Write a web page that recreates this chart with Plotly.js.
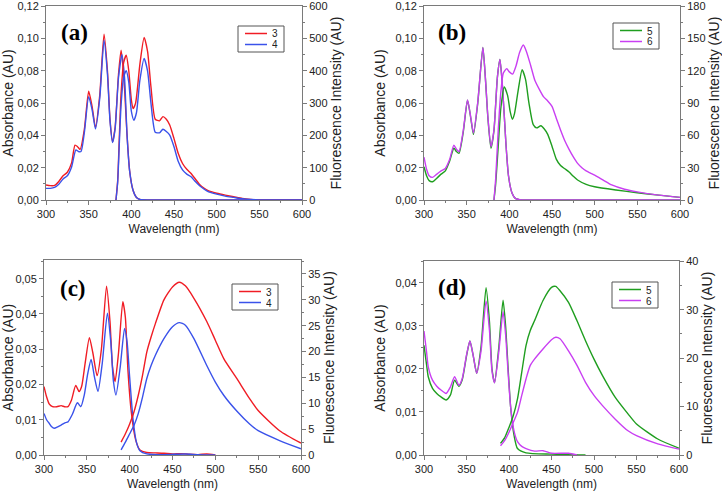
<!DOCTYPE html>
<html>
<head>
<meta charset="utf-8">
<script src="https://cdn.plot.ly/plotly-3.0.1.min.js"></script>
<style>
  html, body { margin: 0; padding: 0; background: #fff; }
  #chart { width: 722px; height: 493px; }
</style>
</head>
<body>
<div id="chart"></div>
<script>
// ---- panel (a): compounds 3 and 4, upper row ----
let absA_wl3 = [300,305,310,315,320,325,330,334,337,340,345,350,354,358,363,368,372,375,378,381,385,388,391,395,398,402,406,410,420,450,500,550,600];
let absA_3   = [0.0093,0.0089,0.0090,0.0115,0.0150,0.0172,0.0230,0.0340,0.0330,0.0313,0.0440,0.0674,0.0580,0.0450,0.0650,0.1027,0.0800,0.0500,0.0360,0.0450,0.0780,0.0928,0.0780,0.0400,0.0180,0.0060,0.0015,0.0003,0,0,0,0,0];
let absA_wl4 = [300,305,310,315,320,325,330,335,338,341,345,350,354,358,363,368,372,375,378,381,385,389,392,395,398,402,406,410,420,450,500,550,600];
let absA_4   = [0.0072,0.0072,0.0078,0.0098,0.0130,0.0150,0.0205,0.0310,0.0300,0.0300,0.0420,0.0640,0.0560,0.0440,0.0630,0.0990,0.0780,0.0490,0.0355,0.0440,0.0760,0.0900,0.0760,0.0400,0.0180,0.0060,0.0015,0.0003,0,0,0,0,0];

let flA_wl3 = [382,384,386,388,391,394,397,400,402,405,410,415,419,423,428,433,437,441,445,450,455,460,465,470,475,480,485,490,500,510,520,530,540,550,560,600];
let flA_3   = [0,60,200,330,425,448,400,310,283,300,420,503,460,350,250,245,258,250,232,190,144,113,95,82,65,48,37,29,21,15,10,5,2,0.5,0,0];
let flA_wl4 = [382,384,386,388,391,394,397,400,403,406,410,415,419,423,428,433,437,441,445,450,455,460,465,470,475,480,485,490,500,510,520,530,540,550,560,600];
let flA_4   = [0,55,180,295,380,400,365,275,247,270,370,438,400,300,210,208,219,212,201,165,119,93,80,72,57,44,34,26,18,12,8,4,1.5,0.5,0,0];

// ---- panel (b): compounds 5 and 6, upper row ----
let absB_wl = [300,303,306,310,315,320,325,330,335,338,341,346,351,355,358,363,369,372,375,378.5,382,386,389,392,396,399,403,407,412,420,600];
let absB_5  = [0.0206,0.0150,0.0120,0.0113,0.0135,0.0160,0.0180,0.0240,0.0320,0.0300,0.0289,0.0420,0.0618,0.0500,0.0406,0.0600,0.0944,0.0750,0.0500,0.0320,0.0430,0.0760,0.0870,0.0700,0.0350,0.0150,0.0045,0.0010,0.0002,0,0];
let absB_6  = [0.0265,0.0190,0.0150,0.0140,0.0160,0.0180,0.0195,0.0250,0.0340,0.0315,0.0299,0.0430,0.0620,0.0505,0.0415,0.0605,0.0944,0.0750,0.0505,0.0330,0.0435,0.0760,0.0870,0.0700,0.0350,0.0150,0.0045,0.0010,0.0002,0,0];

let flB_wl5 = [382,384,387,390,394,398,401,403.5,406,410,415,419,423,428,432,437,441,445,450,455,460,465,470,475,480,490,500,525,550,575,600];
let flB_5   = [0,15,50,85,105,97,82,75,80,100,121,112,90,70,67,69,66,61,50,38,32,29,26,22,18.6,14.5,12.3,9.3,6.7,4.5,2.4];
let flB_wl6 = [382,384,387,390,393,397,400,403.8,408,412,416.4,420,425,430,435,440,445,450,455,460,465,470,475,480,485,490,495,500,510,520,535,550,575,600];
let flB_6   = [0,20,65,100,118,122,119,117,125,137,144,138,125,111,103,96,92,87,76,65,55,47,40,34,30,27,25,23,18.5,14,10,7.5,4.5,2.4];

// ---- panel (c): compounds 3 and 4, lower row ----
let absC_wl3 = [300,303,306,310,315,320,324,328,332,337,341,344,348,353,357,362,367,373,377,380,383,387,392,395,398,402,407,412,420,430,440,450,460,470,480,490,500];
let absC_3   = [0.0194,0.0165,0.0145,0.0137,0.0137,0.0140,0.0137,0.0137,0.0155,0.0197,0.0180,0.0195,0.0260,0.0333,0.0290,0.0225,0.0300,0.0479,0.0380,0.0250,0.0208,0.0290,0.0435,0.0390,0.0240,0.0120,0.0043,0.0014,0.0007,0.0006,0.0005,0.0003,0.0004,0.0002,0.0001,0.0003,0];
let absC_wl4 = [300,303,306,309,312,316,320,325,328,333,339,343,347,351,355,359,363,368,374,378,381,384,389,394,397,400,404,408,412,420,440,465,480,500];
let absC_4   = [0.0118,0.0100,0.0090,0.0080,0.0076,0.0080,0.0085,0.0092,0.0094,0.0115,0.0148,0.0137,0.0170,0.0230,0.0271,0.0220,0.0180,0.0260,0.0402,0.0320,0.0210,0.0170,0.0250,0.0359,0.0320,0.0220,0.0100,0.0035,0.0012,0.0003,0.0001,0.0003,0.0001,0];

let flC_wl = [390,395,400,405,410,415,420,425,430,440,450,458,465,475,490,500,510,525,540,550,575,600];
let flC_3  = [2.5,4.1,6.0,8.3,11.5,15.4,19.9,22.8,25.4,30.0,32.5,33.4,32.7,30.3,25.8,22.2,18.6,14.8,10.9,8.6,4.7,2.3];
let flC_4  = [1.0,2.5,4.1,5.7,8.0,11.2,14.8,17.3,19.3,22.5,24.8,25.6,25.1,22.5,17.3,14.1,11.5,8.5,6.0,4.7,2.8,1.2];

// ---- panel (d): compounds 5 and 6, lower row ----
let absD_wl5 = [300,303,305,310,315,320,326,331,336,341,345,350,354,358,362,367,373,377,380,383,388,393,396,399,402,406,410,420,450,490];
let absD_5   = [0.0255,0.0210,0.0182,0.0155,0.0143,0.0135,0.0128,0.0139,0.0174,0.0160,0.0175,0.0230,0.0265,0.0230,0.0190,0.0250,0.0389,0.0310,0.0200,0.0168,0.0250,0.0360,0.0300,0.0200,0.0110,0.0045,0.0015,0.0005,0.0002,0];
let absD_wl6 = [300,303,305,310,315,320,326,331,336,341,345,350,354,358,362,367,373,377,380,383,388,393,396,399,402,406,410,415,420,430,440,450,470,480];
let absD_6   = [0.0288,0.0240,0.0205,0.0174,0.0160,0.0151,0.0143,0.0158,0.0182,0.0162,0.0178,0.0232,0.0265,0.0230,0.0190,0.0240,0.0358,0.0290,0.0195,0.0168,0.0240,0.0333,0.0280,0.0190,0.0110,0.0055,0.0031,0.0020,0.0015,0.0009,0.0010,0.0004,0.0004,0];

let flD_wl = [390,395,400,405,410,415,420,425,430,440,450,455,460,470,480,490,500,510,525,540,550,575,600];
let flD_5  = [2.4,3.6,5.7,8.1,11.6,17.1,22.6,25.7,27.7,31.9,34.6,34.8,33.9,31.5,27.7,23.6,19.8,16.4,11.9,8.5,6.4,3.3,1.4];
let flD_6  = [1.9,3.0,4.7,6.7,8.8,12.3,15.7,18.5,19.8,21.9,23.8,24.3,24.0,21.5,18.5,15.0,12.3,10.2,7.4,5.0,4.0,2.3,1.2];

let xTicks = [300, 350, 400, 450, 500, 550, 600];
let panelNames = ['(a)', '(b)', '(c)', '(d)'];
let legendNames = [['3', '4'], ['5', '6'], ['3', '4'], ['5', '6']];

const RED = '#f01c24', BLUE = '#3a52ea', GREEN = '#1f9e1f', MAGENTA = '#c93ff2';
const W = 722, H = 493;
const FONT = 'Liberation Sans, Arial, sans-serif';
const AXC = '#7a7a7a';

function px(x) { return x / W; }
function py(y) { return 1 - y / H; }

function line(x, y, color, xa, ya) {
    return {
        type: 'scatter', mode: 'lines', x: x, y: y,
        xaxis: xa, yaxis: ya, showlegend: false, hoverinfo: 'skip',
        line: {color: color, width: 1.4, shape: 'spline', smoothing: 0.6}
    };
}

let data = [
    line(absA_wl3, absA_3, RED, 'x', 'y'),
    line(absA_wl4, absA_4, BLUE, 'x', 'y'),
    line(flA_wl3, flA_3, RED, 'x', 'y2'),
    line(flA_wl4, flA_4, BLUE, 'x', 'y2'),

    line(absB_wl, absB_5, GREEN, 'x2', 'y3'),
    line(absB_wl, absB_6, MAGENTA, 'x2', 'y3'),
    line(flB_wl5, flB_5, GREEN, 'x2', 'y4'),
    line(flB_wl6, flB_6, MAGENTA, 'x2', 'y4'),

    line(absC_wl3, absC_3, RED, 'x3', 'y5'),
    line(absC_wl4, absC_4, BLUE, 'x3', 'y5'),
    line(flC_wl, flC_3, RED, 'x3', 'y6'),
    line(flC_wl, flC_4, BLUE, 'x3', 'y6'),

    line(absD_wl5, absD_5, GREEN, 'x4', 'y7'),
    line(absD_wl6, absD_6, MAGENTA, 'x4', 'y7'),
    line(flD_wl, flD_5, GREEN, 'x4', 'y8'),
    line(flD_wl, flD_6, MAGENTA, 'x4', 'y8')
];

function xAxis(x0, x1, anchor) {
    return {
        domain: [px(x0), px(x1)], anchor: anchor, range: [300, 600],
        tickvals: xTicks, ticks: 'outside', ticklen: 4, tickcolor: AXC,
        minor: {dtick: 25, ticks: 'outside', ticklen: 2, tickcolor: AXC},
        showline: true, linecolor: AXC, linewidth: 1, mirror: true,
        showgrid: false, zeroline: false, ticklabeloverflow: 'allow',
        tickfont: {family: FONT, size: 11, color: '#222'},
        title: {text: 'Wavelength (nm)', font: {family: FONT, size: 12, color: '#222'}, standoff: 5}
    };
}

function yLeft(y0, y1, anchor, top, dtick) {
    return {
        domain: [py(y1), py(y0)], anchor: anchor, range: [0, top],
        dtick: dtick, tickformat: '.2f', ticks: 'outside', ticklen: 4, tickcolor: AXC,
        minor: {dtick: dtick / 2, ticks: 'outside', ticklen: 2, tickcolor: AXC},
        showline: true, linecolor: AXC, linewidth: 1,
        showgrid: false, zeroline: false, ticklabeloverflow: 'allow',
        tickfont: {family: FONT, size: 11, color: '#222'},
        title: {text: 'Absorbance (AU)', font: {family: FONT, size: 14, color: '#222'}, standoff: 6}
    };
}

function yRight(over, anchor, top, dtick) {
    return {
        overlaying: over, anchor: anchor, side: 'right', range: [0, top],
        dtick: dtick, ticks: 'outside', ticklen: 4, tickcolor: AXC,
        minor: {dtick: dtick / 2, ticks: 'outside', ticklen: 2, tickcolor: AXC},
        showline: true, linecolor: AXC, linewidth: 1,
        showgrid: false, zeroline: false, ticklabeloverflow: 'allow',
        tickfont: {family: FONT, size: 11, color: '#222'},
        title: {text: 'Fluorescence Intensity (AU)', font: {family: FONT, size: 14, color: '#222'}, standoff: 4}
    };
}

// panel labels and hand-made legend boxes
let labelPos = [[74, 32], [452, 32], [73, 288], [452, 287]];
let legendBox = [[238, 26, RED, BLUE], [613, 23, GREEN, MAGENTA], [232, 284, RED, BLUE], [612, 282, GREEN, MAGENTA]];

let annotations = [];
let shapes = [];
panelNames.forEach(function (name, i) {
    annotations.push({
        xref: 'paper', yref: 'paper', x: px(labelPos[i][0]), y: py(labelPos[i][1]),
        text: '<b>' + name + '</b>', showarrow: false, xanchor: 'center', yanchor: 'middle',
        font: {family: 'Liberation Serif, Times New Roman, serif', size: 23, color: '#000'}
    });
    let bx = legendBox[i][0], by = legendBox[i][1];
    shapes.push({type: 'rect', xref: 'paper', yref: 'paper',
        x0: px(bx), x1: px(bx + 46), y0: py(by), y1: py(by + 26),
        line: {color: '#555', width: 1}, fillcolor: 'rgba(0,0,0,0)'});
    [0, 1].forEach(function (k) {
        let ly = by + 7.5 + k * 11;
        shapes.push({type: 'line', xref: 'paper', yref: 'paper',
            x0: px(bx + 7), x1: px(bx + 29), y0: py(ly), y1: py(ly),
            line: {color: legendBox[i][2 + k], width: 1.5}});
        annotations.push({
            xref: 'paper', yref: 'paper', x: px(bx + 33), y: py(ly),
            text: legendNames[i][k], showarrow: false, xanchor: 'left', yanchor: 'middle',
            height: 10, borderpad: 0,
            font: {family: FONT, size: 10, color: '#222'}
        });
    });
});

let layout = {
    width: W, height: H,
    margin: {l: 0, r: 0, t: 0, b: 0},
    paper_bgcolor: '#fff', plot_bgcolor: '#fff',
    separators: ',.',
    showlegend: false,
    xaxis: xAxis(46, 302, 'y'),
    yaxis: yLeft(6, 200, 'x', 0.1201, 0.02),
    yaxis2: yRight('y', 'x', 600.5, 100),
    xaxis2: xAxis(424, 680, 'y3'),
    yaxis3: yLeft(6, 200, 'x2', 0.1201, 0.02),
    yaxis4: yRight('y3', 'x2', 180.2, 30),
    xaxis3: xAxis(44, 301, 'y5'),
    yaxis5: yLeft(260, 455, 'x3', 0.0553, 0.01),
    yaxis6: yRight('y5', 'x3', 37.7, 5),
    xaxis4: xAxis(424, 679, 'y7'),
    yaxis7: yLeft(261, 455, 'x4', 0.0451, 0.01),
    yaxis8: yRight('y7', 'x4', 40.05, 10),
    annotations: annotations,
    shapes: shapes
};

Plotly.newPlot('chart', data, layout, {staticPlot: true});
</script>
</body>
</html>
